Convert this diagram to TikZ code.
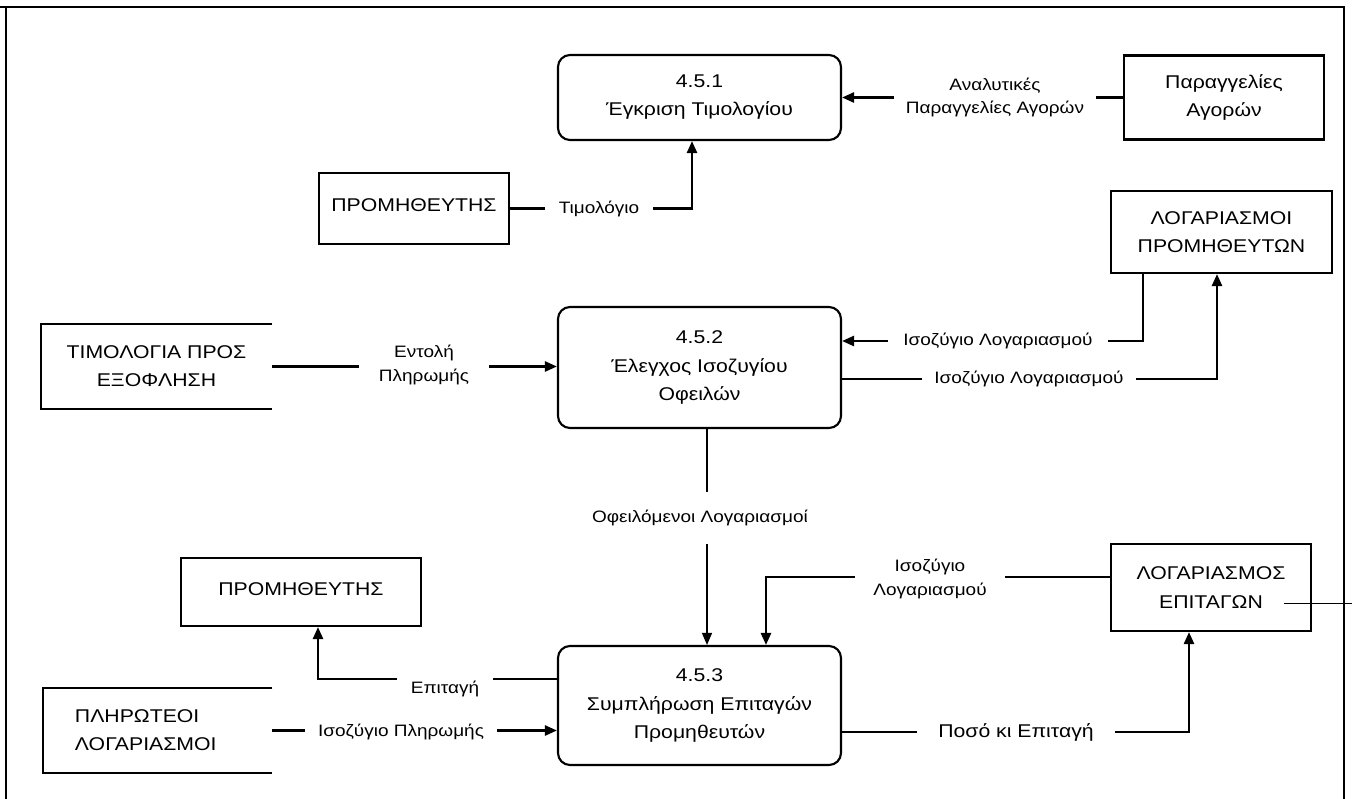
\documentclass[tikz,border=0pt]{standalone}
\usepackage{fontspec}
\setmainfont{Liberation Sans}
\newfontfamily\dfdfont{Liberation Sans}[FakeStretch=1.15]
\usetikzlibrary{arrows.meta}

\begin{document}
\begin{tikzpicture}[x=0.2mm,y=-0.2mm,
    boxfont/.style={font=\dfdfont\fontsize{10.5}{16}\selectfont},
    proc/.style={draw,line width=1.2pt,rounded corners=2.4mm,minimum width=56.6mm,align=center,boxfont},
    ext/.style={draw,line width=1.2pt,align=center,boxfont},
    store/.style={align=center,boxfont},
    flow/.style={line width=1.4pt,-{Triangle[length=2.4mm,width=2mm]}},
    lbl/.style={fill=white,align=center,inner ysep=1.2mm,font=\dfdfont\fontsize{9.4}{13.5}\selectfont}]
    \useasboundingbox (0,0) rectangle (1352,799);
    \draw[line width=1.6pt] (0,7) -- (1345,7);
    \draw[line width=0.6pt] (6,7) -- (6,799);
    \draw[line width=1.6pt] (1344,7) -- (1344,799);

    \node[proc,minimum height=17mm] (p1) at (699.5,97.5) {4.5.1\\Έγκριση Τιμολογίου};
    \node[proc,minimum height=24.2mm] (p2) at (699.5,367.5) {4.5.2\\Έλεγχος Ισοζυγίου\\Οφειλών};
    \node[proc,minimum height=23.8mm] (p3) at (699.5,705.5) {4.5.3\\Συμπλήρωση Επιταγών\\Προμηθευτών};
    \node[ext,minimum width=40mm,minimum height=16.8mm] (parag) at (1224,97.5) {Παραγγελίες\\Αγορών};
    \node[ext,minimum width=38mm,minimum height=14.2mm] (prom1) at (414,208.5) {\raisebox{1.2mm}{ΠΡΟΜΗΘΕΥΤΗΣ}};
    \node[ext,minimum width=44.2mm,minimum height=16.4mm] (logprom) at (1221.5,232) {ΛΟΓΑΡΙΑΣΜΟΙ\\ΠΡΟΜΗΘΕΥΤΩΝ};
    \node[ext,minimum width=48mm,minimum height=13.6mm] (prom2) at (301,592) {\raisebox{1.2mm}{ΠΡΟΜΗΘΕΥΤΗΣ}};
    \node[ext,minimum width=40mm,minimum height=17.4mm] (logepi) at (1211,587.5) {ΛΟΓΑΡΙΑΣΜΟΣ\\ΕΠΙΤΑΓΩΝ};
    \node[store,minimum width=46.2mm,minimum height=17mm] (timol) at (156.5,366.5) {ΤΙΜΟΛΟΓΙΑ ΠΡΟΣ\\ΕΞΟΦΛΗΣΗ};
    \node[store,align=left,inner xsep=0pt,text width=33mm,minimum width=45.8mm,minimum height=17mm] (plir) at (157.5,730.5) {ΠΛΗΡΩΤΕΟΙ\\ΛΟΓΑΡΙΑΣΜΟΙ};
    \foreach \s in {timol,plir}
        \draw[line width=1.2pt] (\s.north east) -- (\s.north west) -- (\s.south west) -- (\s.south east);

    \coordinate (tb) at (692,208.5);
    \coordinate (ua) at (1143,341);
    \coordinate (ub) at (1217,379);
    \coordinate (ox) at (707,0);
    \coordinate (uc) at (766,577);
    \coordinate (ue) at (318,679);
    \coordinate (uq) at (1189,732);
    \coordinate (stubA) at (1284,603);
    \coordinate (stubB) at (1352,603);

    \draw[flow] (prom1.east) -- (tb) -- (tb |- p1.south);
    \draw[flow] (parag.west) -- (p1.east);
    \draw[flow] (timol.east) -- (timol.east -| p2.west);
    \draw[flow] (logprom.south -| ua) -- (ua) -- (ua -| p2.east);
    \draw[flow] (p2.east |- ub) -- (ub) -- (ub |- logprom.south);
    \draw[flow,line width=0.7pt] (p2.south -| ox) -- (p3.north -| ox);
    \draw[flow] (logepi.west |- uc) -- (uc) -- (uc |- p3.north);
    \draw[flow] (p3.west |- ue) -- (ue) -- (ue |- prom2.south);
    \draw[flow] (plir.east) -- (plir.east -| p3.west);
    \draw[flow] (p3.east |- uq) -- (uq) -- (uq |- logepi.south);
    \draw[line width=0.5pt] (stubA) -- (stubB);

    \node[lbl,inner xsep=2.7mm] (lTim) at (599,208.5) {Τιμολόγιο};
    \node[lbl,inner xsep=2.3mm] (lAnal) at (995,97.5) {Αναλυτικές\\Παραγγελίες Αγορών};
    \node[lbl,inner xsep=4mm] (lEnt) at (424,365) {Εντολή\\Πληρωμής};
    \node[lbl,inner xsep=3mm] (lIsoA) at (998,341) {Ισοζύγιο Λογαριασμού};
    \node[lbl,inner xsep=2.5mm] (lIsoB) at (1029,379) {Ισοζύγιο Λογαριασμού};
    \node[lbl,inner ysep=3.7mm] (lOfe) at (700,518) {Οφειλόμενοι Λογαριασμοί};
    \node[lbl,inner xsep=3.7mm] (lIsoC) at (930,579) {Ισοζύγιο\\Λογαριασμού};
    \node[lbl,inner xsep=2.8mm] (lEpi) at (445,689) {Επιταγή};
    \node[lbl,inner xsep=2.6mm] (lIsoP) at (401,732) {Ισοζύγιο Πληρωμής};
    \node[lbl,inner xsep=4.3mm,font=\dfdfont\fontsize{10.5}{13.5}\selectfont] (lPoso) at (1016,732) {Ποσό κι Επιταγή};
\end{tikzpicture}
\end{document}
